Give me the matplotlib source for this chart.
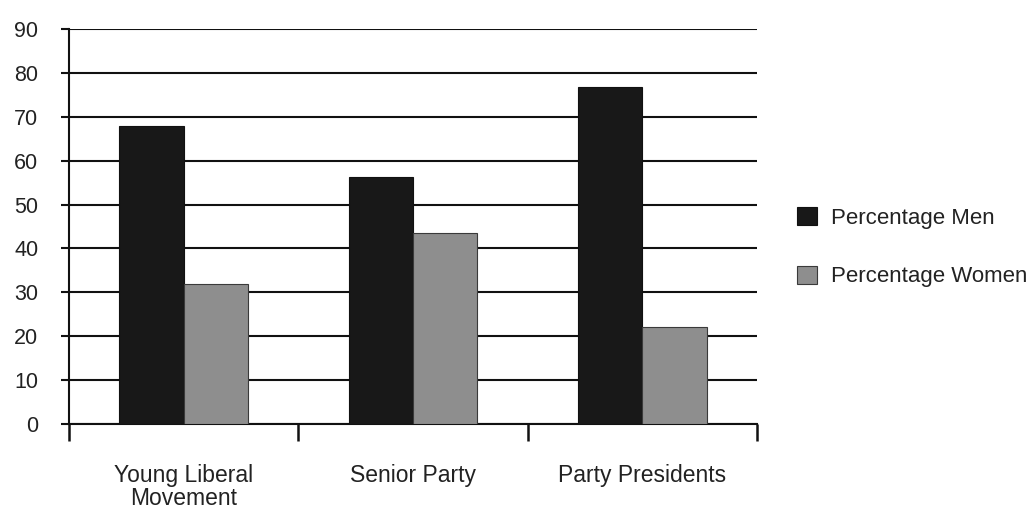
import matplotlib
matplotlib.use("Agg")
import matplotlib.pyplot as plt
import numpy as np

categories = ["Young Liberal\nMovement", "Senior Party", "Party Presidents"]
series_names = ["Percentage Men", "Percentage Women"]
men = [67.8, 56.2, 76.8]
women = [32.0, 43.6, 22.1]
y_ticks = [0, 10, 20, 30, 40, 50, 60, 70, 80, 90]

plt.rcParams["font.family"] = ["Liberation Sans", "DejaVu Sans"]

fig = plt.figure(figsize=(10.35, 5.12), dpi=100)
ax = fig.add_axes([69 / 1035, 1 - 424 / 512, (757 - 69) / 1035, (424 - 29) / 512])

x = np.arange(len(categories))
width = 0.28
ax.bar(x - width / 2, men, width, color="#181818", edgecolor="#111111",
       linewidth=0.8, zorder=3, label=series_names[0])
ax.bar(x + width / 2, women, width, color="#8e8e8e", edgecolor="#3a3a3a",
       linewidth=0.8, zorder=3, label=series_names[1])

ax.set_xlim(-0.5, len(categories) - 0.5)
ax.set_ylim(0, 90)

# horizontal gridlines
ax.set_yticks(y_ticks)
ax.yaxis.grid(True, color="#111111", linewidth=1.5, zorder=0)
ax.set_axisbelow(True)
ax.tick_params(axis="y", direction="out", length=6, width=1.5, color="#111111",
               pad=16, labelsize=15.5, labelcolor="#222222")

# category labels, with boundary tick marks between categories
ax.set_xticks(x)
ax.set_xticklabels(categories, fontsize=16.5, color="#222222", linespacing=1.0)
ax.tick_params(axis="x", which="major", length=0, pad=29)
ax.set_xticks(np.arange(-0.5, len(categories)), minor=True)
ax.tick_params(axis="x", which="minor", direction="out", length=12, width=1.8,
               color="#111111")

for side in ("top", "right"):
    ax.spines[side].set_visible(False)
for side in ("left", "bottom"):
    ax.spines[side].set_linewidth(1.5)
    ax.spines[side].set_color("#111111")

fig.legend(loc="upper left", bbox_to_anchor=(797 / 1035, 1 - 207 / 512),
           frameon=False, fontsize=16, handlelength=0.9, handleheight=0.9,
           handletextpad=0.65, labelspacing=1.65, borderpad=0, borderaxespad=0,
           labelcolor="#222222")

fig.savefig("out.png", dpi=100)
